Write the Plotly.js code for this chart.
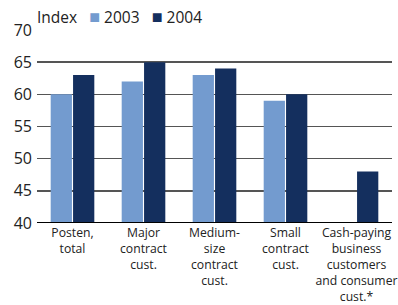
<!DOCTYPE html>
<html><head><meta charset="utf-8">
<script src="https://cdn.plot.ly/plotly-3.0.1.min.js"></script>
<style>html,body{margin:0;padding:0;background:#fff}#chart{width:398px;height:305px}</style>
</head><body><div id="chart"></div>
<script>
const categories = ["Posten,<br>total", "Major<br>contract<br>cust.", "Medium-<br>size<br>contract<br>cust.", "Small<br>contract<br>cust.", "Cash-paying<br>business<br>customers<br>and consumer<br>cust.*"];
const values2003 = [60, 62, 63, 59, null];
const values2004 = [63, 65, 64, 60, 48];
const seriesNames = ["2003", "2004"];
const colors = ["#739bcf", "#142f5e"];
const yTicks = [40, 45, 50, 55, 60, 65, 70];

const font = "Open Sans, Noto Sans, sans-serif";
const data = [
  {type: "bar", name: seriesNames[0], x: categories, y: values2003, marker: {color: colors[0]}},
  {type: "bar", name: seriesNames[1], x: categories, y: values2004, marker: {color: colors[1]}}
];

const legendText = "Index   " + seriesNames.map((n, i) =>
  "<span style='color:" + colors[i] + ";font-size:18px'>■</span> " + n).join("   ");

const layout = {
  width: 398, height: 305,
  margin: {l: 37, r: 6, t: 30, b: 82},
  paper_bgcolor: "#fff", plot_bgcolor: "#fff",
  barmode: "group", bargap: 0.37, bargroupgap: 0.05,
  font: {family: font, color: "#222", size: 14},
  showlegend: false,
  xaxis: {showgrid: false, zeroline: false, showline: false, ticks: "", tickangle: 0,
          tickfont: {size: 12.2, color: "#222"}, ticklabelstandoff: 1, fixedrange: true},
  yaxis: {range: [40, 70], tickvals: yTicks,
          showgrid: true, gridcolor: "#555", gridwidth: 1.5, zeroline: false,
          showline: false, ticks: "", tickfont: {size: 16, color: "#222"}, ticklabelstandoff: 4},
  shapes: [{type: "line", xref: "paper", yref: "y", x0: 0, x1: 1, y0: 40, y1: 40, line: {color: "#000", width: 2}}],
  annotations: [
    {text: legendText, xref: "paper", yref: "paper", x: 0, y: 1, xanchor: "left", yanchor: "bottom",
     showarrow: false, font: {size: 15.5, color: "#222"}, yshift: 0, xshift: -2}
  ]
};
Plotly.newPlot("chart", data, layout, {displayModeBar: false, staticPlot: true});
</script></body></html>
